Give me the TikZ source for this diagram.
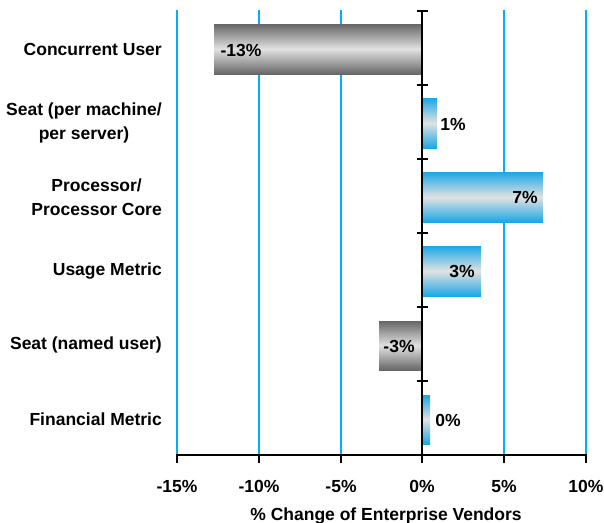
\documentclass[tikz,border=0pt]{standalone}
\usepackage{fontspec}
\setmainfont{Liberation Sans}
\definecolor{gridblue}{HTML}{00B0F0}
\definecolor{barblue}{HTML}{1AA7E6}
\definecolor{bardark}{HTML}{666666}
\definecolor{barlight}{HTML}{E2E2E2}
\begin{document}
\begin{tikzpicture}[x=1pt,y=-1pt,
  gridline/.style={gridblue, line width=2pt},
  axisline/.style={black, line width=2pt},
  tickline/.style={black, line width=1.6pt},
  posbar/.style={top color=barblue, bottom color=barblue, middle color=barlight},
  negbar/.style={top color=bardark, bottom color=bardark, middle color=barlight},
  cat/.style={font=\bfseries\fontsize{17.5}{23.5}\selectfont, align=center, anchor=east, inner sep=0pt},
  val/.style={font=\bfseries\fontsize{17.5}{20}\selectfont, inner sep=0pt},
  ticklab/.style={font=\bfseries\fontsize{17.5}{20}\selectfont, inner sep=0pt}]
\useasboundingbox (0,0) rectangle (604,522);
% grid
\foreach \x in {177,259,341,504,586} \draw[gridline] (\x,10) -- (\x,455);
% bars
\shade[negbar] (214,24) rectangle (422,74);
\shade[posbar] (422,98) rectangle (437,148);
\shade[posbar] (422,172) rectangle (543,222);
\shade[posbar] (422,246) rectangle (481,296);
\shade[negbar] (379,321) rectangle (422,370);
\shade[posbar] (422,395) rectangle (430,444);
% axes
\draw[axisline] (422,10) -- (422,455);
\draw[axisline] (176,455) -- (587,455);
\foreach \y in {11,85,159,233,307,381} \draw[tickline] (417,\y) -- (428,\y);
\foreach \x in {177,259,341,422,504,586} \draw[tickline] (\x,455) -- (\x,463);
% category labels
\node[cat] (c1) at (162,49) {Concurrent User};
\node[cat] (c2) at (162,123) {Seat (per machine/\\per server)};
\node[cat] (c3) at (162,197) {Processor/\\Processor Core};
\node[cat] (c4) at (162,271) {Usage Metric};
\node[cat] (c5) at (162,345) {Seat (named user)};
\node[cat] (c6) at (162,419) {Financial Metric};
% value labels
\node[val] (v1) at (241,50) {-13\%};
\node[val] (v2) at (453,124) {1\%};
\node[val] (v3) at (525,197) {7\%};
\node[val] (v4) at (462,271) {3\%};
\node[val] (v5) at (399,346) {-3\%};
\node[val] (v6) at (448,420) {0\%};
% tick labels
\node[ticklab] (t1) at (177,486) {-15\%};
\node[ticklab] (t2) at (259,486) {-10\%};
\node[ticklab] (t3) at (341,486) {-5\%};
\node[ticklab] (t4) at (422,486) {0\%};
\node[ticklab] (t5) at (504,486) {5\%};
\node[ticklab] (t6) at (586,486) {10\%};
\node[ticklab, anchor=base] (title) at (386,520) {\% Change of Enterprise Vendors};
\end{tikzpicture}
\end{document}
